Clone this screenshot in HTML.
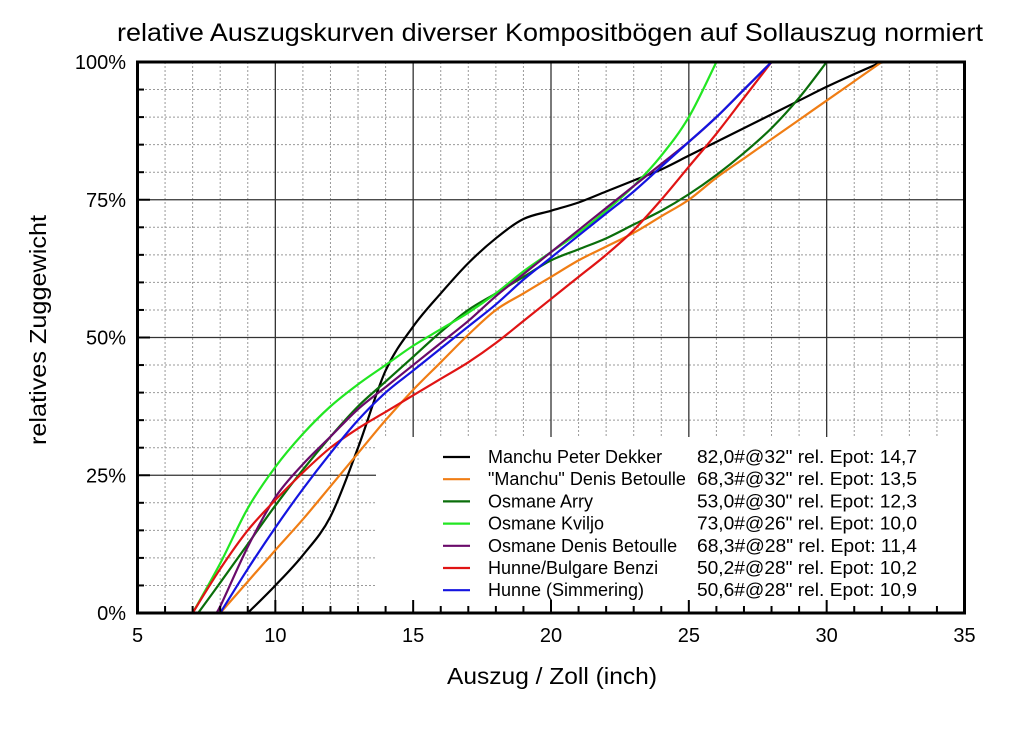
<!DOCTYPE html><html><head><meta charset="utf-8"><style>body{margin:0;background:#fff}svg text{font-family:"Liberation Sans",Arial,sans-serif}</style></head><body>
<svg id="s" width="1024" height="724" xmlns="http://www.w3.org/2000/svg">
<rect width="1024" height="724" fill="#fff"/>
<g id="grid"></g>
<rect x="376" y="437" width="588" height="175" fill="#fff"/>
<g id="curves" fill="none" stroke-width="2.2"></g>
<rect x="137.5" y="62" width="827" height="551" fill="none" stroke="#000" stroke-width="3"/>
<g id="ticks"></g>
<text x="117" y="41" font-size="25" textLength="866" lengthAdjust="spacingAndGlyphs">relative Auszugskurven diverser Kompositbögen auf Sollauszug normiert</text>
<text x="447" y="684" font-size="23" textLength="210" lengthAdjust="spacingAndGlyphs">Auszug / Zoll (inch)</text>
<text transform="translate(46,330) rotate(-90)" font-size="23" text-anchor="middle" textLength="230" lengthAdjust="spacingAndGlyphs">relatives Zuggewicht</text>
<g id="leg" font-size="18"></g>
</svg>
<script>
const X=v=>137.5+(v-5)*827/30, Y=p=>613-p*5.51;
const ns="http://www.w3.org/2000/svg";
function el(p,t,a,txt){const e=document.createElementNS(ns,t);for(const k in a)e.setAttribute(k,a[k]);if(txt!=null)e.textContent=txt;document.getElementById(p).appendChild(e);return e;}
for(let v=6;v<35;v++){if(v%5==0)continue;el('grid','line',{x1:X(v),x2:X(v),y1:62,y2:613,stroke:'#999','stroke-dasharray':'2,2','stroke-width':1});}
for(let p=5;p<100;p+=5){if(p%25==0)continue;el('grid','line',{x1:137,x2:965,y1:Y(p),y2:Y(p),stroke:'#999','stroke-dasharray':'2,2','stroke-width':1});}
for(let v=10;v<35;v+=5)el('grid','line',{x1:X(v),x2:X(v),y1:62,y2:613,stroke:'#333','stroke-width':1.3});
for(let p of [25,50,75])el('grid','line',{x1:137,x2:965,y1:Y(p),y2:Y(p),stroke:'#333','stroke-width':1.3});
for(let v=5;v<=35;v++){el('ticks','line',{x1:X(v),x2:X(v),y1:613,y2:v%5?606:600,stroke:'#000','stroke-width':2});}
for(let p=0;p<=100;p+=5){el('ticks','line',{x1:137,x2:p%25?144:150,y1:Y(p),y2:Y(p),stroke:'#000','stroke-width':2});}
for(let v=5;v<=35;v+=5)el('ticks','text',{x:X(v),y:642,'font-size':20,'text-anchor':'middle'},v);
for(let p=0;p<=100;p+=25)el('ticks','text',{x:126,y:Y(p)+7,'font-size':20,'text-anchor':'end'},p+'%');
const S=[
['#000',9,[0,5,10.5,17.5,30,44,52,58,63.5,68,71.5,73,74.5,76.5,78.5,80.5,83,85.5,88,90.5,93,95.5,97.8,100],'Manchu Peter Dekker','82,0#@32" rel. Epot: 14,7'],
['#f07d14',8,[0,5.7,11.4,17,23,29,35,40.5,45.5,50.5,55,58,61,64,66.5,69,72,75,79,82.5,86,89.5,93,96.5,100],'"Manchu" Denis Betoulle','68,3#@32" rel. Epot: 13,5'],
['#0a6e0a',7.2,[0,5.5,12.5,19.5,26,32,37.5,42,46.5,51,55,58,61,64,66,68,70.5,73,76,79.5,83.5,88,93.5,100],'Osmane Arry','53,0#@30" rel. Epot: 12,3'],
['#22e622',7,[0,9,19,26.5,32.5,37.5,41.5,45,48.5,51.5,54.5,58,62,65.5,69,73,77.5,83,90,100],'Osmane Kviljo','73,0#@26" rel. Epot: 10,0'],
['#6a0a6a',7.8,[0,1.2,12,21,27,32,37,41,45,49,53,57.5,61.5,65.5,69.5,73.5,77.5,81.5,85.5,90,95,100],'Osmane Denis Betoulle','68,3#@28" rel. Epot: 11,4'],
['#e01414',7,[0,8,15,20.5,25.5,30,33.5,36.5,39.5,42.5,45.5,49,53,57,61,65,69.5,75,81,87,93.5,100],'Hunne/Bulgare Benzi','50,2#@28" rel. Epot: 10,2'],
['#1414e0',8,[0,8,15.5,22.5,29,35,40,44,48,52,56,60.5,64.5,68.5,72.5,76.5,81,85.5,90,95,100],'Hunne (Simmering)','50,6#@28" rel. Epot: 10,9']];
const W=[202,208,120,128,205,182,157];
S.forEach((s,i)=>{const [c,x0,ys]=s;const pts=ys.map((y,j)=>{let xv=j==0?x0:Math.floor(x0)+j;if(j>0&&x0%1!=0)xv=Math.ceil(x0)+j-1;return [X(xv),Y(y)];});
let d='M'+pts[0];for(let k=0;k<pts.length-1;k++){const p0=pts[k-1]||pts[k],p1=pts[k],p2=pts[k+1],p3=pts[k+2]||p2;d+=` C${p1[0]+(p2[0]-p0[0])/6},${p1[1]+(p2[1]-p0[1])/6} ${p2[0]-(p3[0]-p1[0])/6},${p2[1]-(p3[1]-p1[1])/6} ${p2[0]},${p2[1]}`;}
el('curves','path',{d,stroke:c});
const ly=457+i*22.2;el('leg','line',{x1:443,x2:470,y1:ly,y2:ly,stroke:c,'stroke-width':2.2});
el('leg','text',{x:488,y:ly+6},s[3]);el('leg','text',{x:697,y:ly+6,textLength:220,lengthAdjust:'spacingAndGlyphs'},s[4]);});
</script>
</body></html>
